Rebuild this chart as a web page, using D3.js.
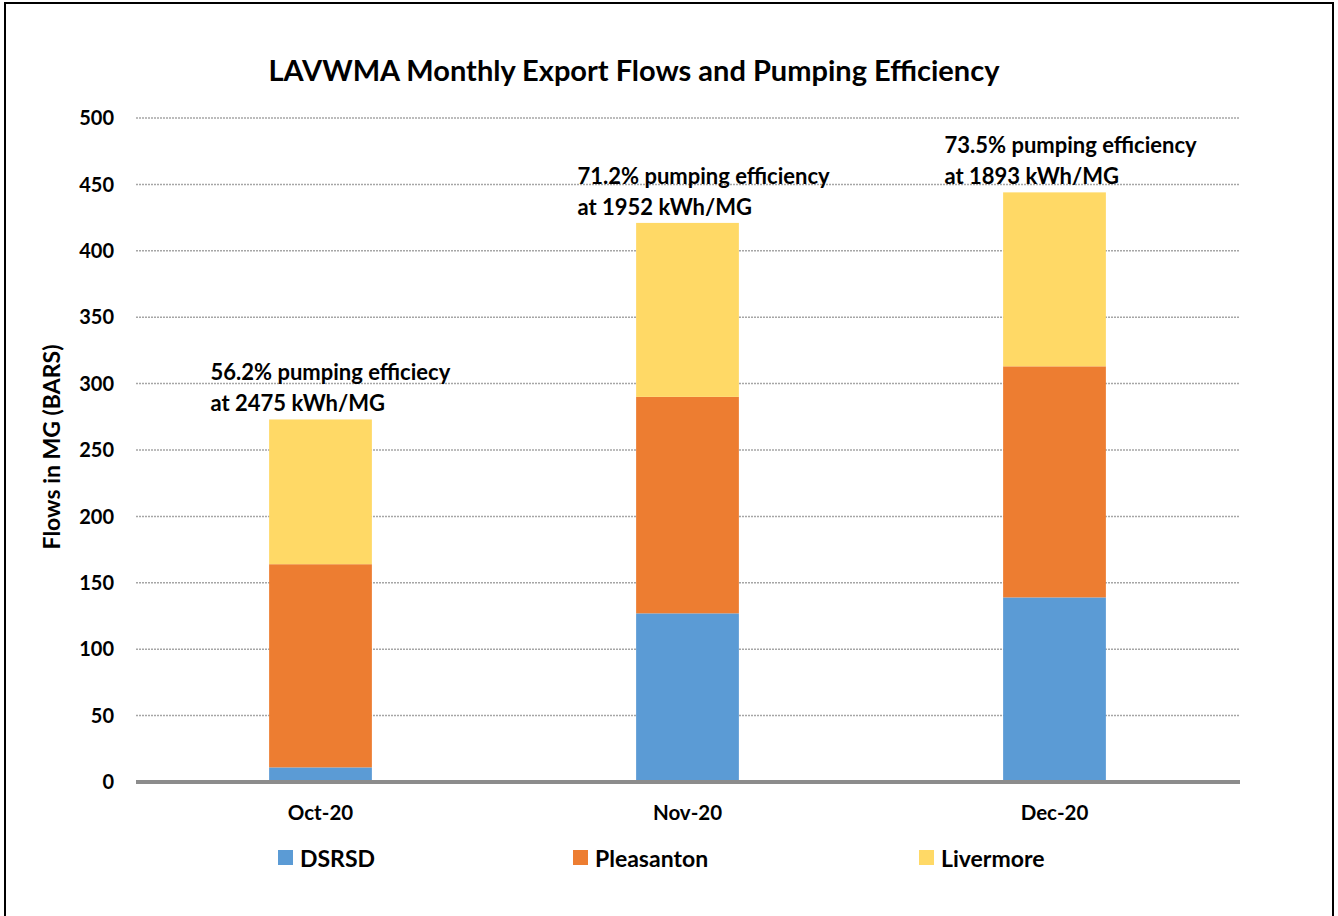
<!DOCTYPE html>
<html>
<head>
<meta charset="utf-8">
<script src="https://cdn.jsdelivr.net/npm/d3@7"></script>
<style>
  body { margin: 0; background: #fff; }
  text { font-family: Lato, "Open Sans", sans-serif; font-weight: bold; fill: #000; }
</style>
</head>
<body>
<div id="chart"></div>
<script>
// chart data
const months = ['Oct-20', 'Nov-20', 'Dec-20'];
const series = ['DSRSD', 'Pleasanton', 'Livermore'];
const dsrsd = [11, 127, 139];
const pleasanton = [153, 163, 174];
const livermore = [109, 131, 131];
const effLines = ['56.2% pumping efficiecy', '71.2% pumping efficiency', '73.5% pumping efficiency'];
const kwhLines = ['at 2475 kWh/MG', 'at 1952 kWh/MG', 'at 1893 kWh/MG'];
const yTicks = [0, 50, 100, 150, 200, 250, 300, 350, 400, 450, 500];

const colours = ['#5b9bd5', '#ed7d31', '#ffd966'];

const W = 1338, H = 916;
const margin = {left: 137, right: 100, top: 118, bottom: 134};

const svg = d3.select('#chart').append('svg')
    .attr('width', W)
    .attr('height', H);

// outer frame
svg.append('rect')
    .attr('x', 5).attr('y', 3)
    .attr('width', W - 10).attr('height', H + 20)
    .attr('fill', 'none')
    .attr('stroke', '#000')
    .attr('stroke-width', 2);

const x = d3.scaleBand()
    .domain(months)
    .range([margin.left, W - margin.right])
    .paddingInner(0.72)
    .paddingOuter(0.36);

const y = d3.scaleLinear()
    .domain([0, 500])
    .range([H - margin.bottom, margin.top]);

// gridlines
svg.append('g').selectAll('line')
    .data(yTicks.filter(t => t > 0))
    .enter().append('line')
        .attr('x1', margin.left - 1)
        .attr('x2', W - margin.right + 2)
        .attr('y1', d => y(d))
        .attr('y2', d => y(d))
        .attr('stroke', '#a6a6a6')
        .attr('stroke-width', 1.5)
        .attr('stroke-dasharray', '2,1');

// y tick labels
svg.append('g').selectAll('text')
    .data(yTicks)
    .enter().append('text')
        .attr('x', 114)
        .attr('y', d => y(d))
        .attr('dy', '0.36em')
        .attr('text-anchor', 'end')
        .style('font-size', '20px')
        .text(d => d);

// stack the series
const table = months.map((m, i) => ({month: m, DSRSD: dsrsd[i], Pleasanton: pleasanton[i], Livermore: livermore[i]}));
const stacked = d3.stack().keys(series)(table);

svg.append('g').selectAll('g')
    .data(stacked)
    .enter().append('g')
        .attr('fill', (d, i) => colours[i])
        .selectAll('rect')
        .data(d => d)
        .enter().append('rect')
            .attr('x', d => x(d.data.month))
            .attr('width', x.bandwidth())
            .attr('y', d => y(d[1]))
            .attr('height', d => y(d[0]) - y(d[1]));

// baseline
svg.append('line')
    .attr('x1', margin.left - 1)
    .attr('x2', W - margin.right + 2)
    .attr('y1', y(0)).attr('y2', y(0))
    .attr('stroke', '#8c8c8c')
    .attr('stroke-width', 4);

// category labels
svg.append('g').selectAll('text')
    .data(months)
    .enter().append('text')
        .attr('x', d => x(d) + x.bandwidth() / 2)
        .attr('y', 820)
        .attr('text-anchor', 'middle')
        .style('font-size', '20.5px')
        .text(d => d);

// efficiency annotations above each bar
const tops = table.map(d => d.DSRSD + d.Pleasanton + d.Livermore);
const noteX = d => x(d) + x.bandwidth() / 2 - 110;
const notes = svg.append('g').selectAll('text')
    .data(months)
    .enter().append('text')
        .attr('x', noteX)
        .attr('y', (d, i) => y(tops[i]) - 39)
        .style('font-size', '22px');
notes.append('tspan').text((d, i) => effLines[i]);
notes.append('tspan')
    .attr('x', noteX)
    .attr('dy', 31)
    .text((d, i) => kwhLines[i]);

// title
svg.append('text')
    .attr('x', 634)
    .attr('y', 81)
    .attr('text-anchor', 'middle')
    .style('font-size', '29px')
    .text('LAVWMA Monthly Export Flows and Pumping Efficiency');

// y axis title
svg.append('text')
    .attr('transform', `translate(60, ${y(250) - 3}) rotate(-90)`)
    .attr('text-anchor', 'middle')
    .style('font-size', '23px')
    .text('Flows in MG (BARS)');

// legend
const legendX = [278, 573, 919];
const legend = svg.append('g').selectAll('g')
    .data(series)
    .enter().append('g')
        .attr('transform', (d, i) => `translate(${legendX[i]}, 850)`);
legend.append('rect')
    .attr('width', 15).attr('height', 15)
    .attr('fill', (d, i) => colours[i]);
legend.append('text')
    .attr('x', 22)
    .attr('y', 16.5)
    .style('font-size', '23px')
    .text(d => d);
</script>
</body>
</html>
